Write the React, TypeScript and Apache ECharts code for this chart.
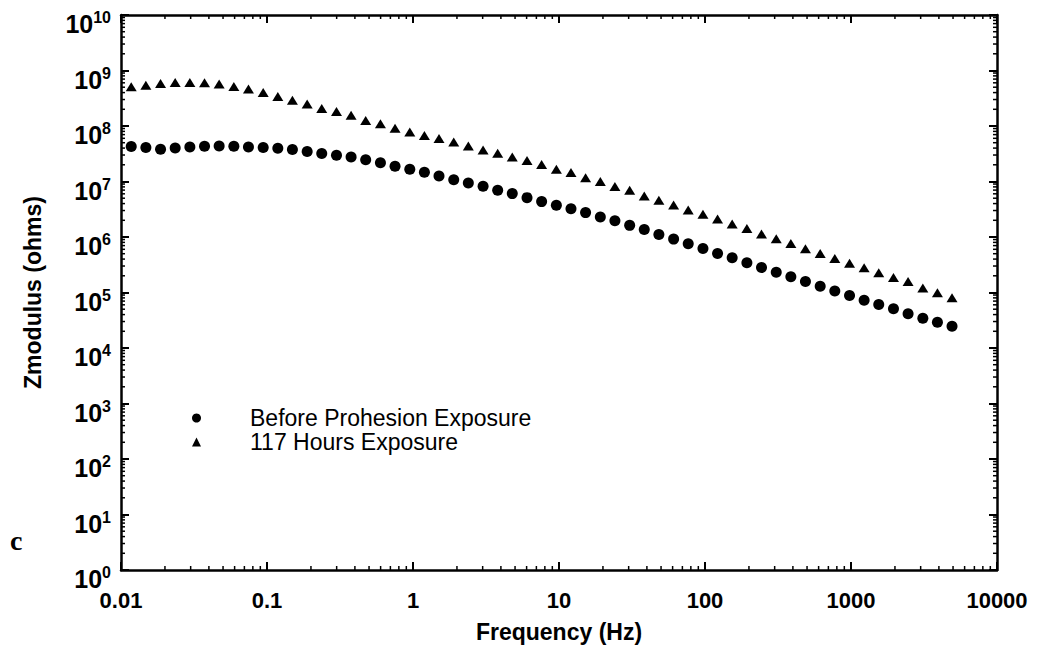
import React, { useEffect, useRef } from 'react';
import * as echarts from 'echarts';

// Frequency (Hz) of each measurement point
const frequencies = [
  0.01175, 0.0148, 0.01866, 0.0235, 0.02962, 0.03733, 0.04702, 0.05929, 0.07464, 0.09419,
  0.1186, 0.1493, 0.1884, 0.2371, 0.2992, 0.3767, 0.4742, 0.5984, 0.7534, 0.9506,
  1.197, 1.507, 1.901, 2.393, 3.02, 3.802, 4.786, 6.039, 7.603, 9.594,
  12.08, 15.21, 19.19, 24.15, 30.48, 38.37, 48.31, 60.95, 76.74, 96.83,
  121.9, 153.5, 193.6, 243.8, 307.6, 387.3, 487.5, 615.2, 774.5, 977.2,
  1230, 1549, 1954, 2460, 3105, 3908, 4920,
];

// |Z| (ohms) before Prohesion exposure
const beforeExposure = [
  4.27e7, 4.09e7, 3.81e7, 4.03e7, 4.2e7, 4.32e7, 4.38e7, 4.32e7, 4.2e7, 4.09e7,
  3.97e7, 3.77e7, 3.47e7, 3.19e7, 2.97e7, 2.77e7, 2.47e7, 2.18e7, 1.88e7, 1.66e7,
  1.47e7, 1.26e7, 1.08e7, 9.4e6, 8.18e6, 6.93e6, 6.05e6, 5.12e6, 4.34e6, 3.72e6,
  3.24e6, 2.75e6, 2.29e6, 1.97e6, 1.62e6, 1.36e6, 1.11e6, 9.16e5, 7.57e5, 6.22e5,
  5.06e5, 4.23e5, 3.44e5, 2.81e5, 2.32e5, 1.92e5, 1.58e5, 1.3e5, 1.06e5, 8.83e4,
  7.26e4, 6.07e4, 5.08e4, 4.13e4, 3.44e4, 2.91e4, 2.47e4,
];

// |Z| (ohms) after 117 hours exposure
const after117Hours = [
  5.08e8, 5.45e8, 5.85e8, 6.1e8, 6.1e8, 6.0e8, 5.69e8, 5.16e8, 4.62e8, 4.03e8,
  3.41e8, 2.92e8, 2.48e8, 2.07e8, 1.83e8, 1.57e8, 1.26e8, 1.1e8, 9.12e7, 7.83e7,
  6.73e7, 5.94e7, 5.16e7, 4.38e7, 3.71e7, 3.23e7, 2.77e7, 2.38e7, 2.02e7, 1.66e7,
  1.45e7, 1.17e7, 9.95e6, 8.09e6, 6.93e6, 5.47e6, 4.58e6, 3.77e6, 3.06e6, 2.56e6,
  2.1e6, 1.71e6, 1.43e6, 1.13e6, 9.31e5, 7.66e5, 6.15e5, 5.06e5, 4.11e5, 3.38e5,
  2.79e5, 2.27e5, 1.87e5, 1.58e5, 1.21e5, 9.89e4, 8.02e4,
];

const seriesNames = ['Before Prohesion Exposure', '117 Hours Exposure'];
const xTickLabels = ['0.01', '0.1', '1', '10', '100', '1000', '10000'];
const xExponentMin = -2;
const yTickExponents = ['0', '1', '2', '3', '4', '5', '6', '7', '8', '9', '10'];
const minorMultipliers = [2, 3, 4, 5, 6, 7, 8, 9];
const xDecades = [0.01, 0.1, 1, 10, 100, 1000];
const yDecades = [1, 10, 100, 1000, 1e4, 1e5, 1e6, 1e7, 1e8, 1e9];

const FONT = 'Liberation Sans';

export default function App() {
  const ref = useRef<HTMLDivElement>(null);

  useEffect(() => {
    if (!ref.current) return;
    const chart = echarts.init(ref.current, null, { renderer: 'svg' });

    const axisLine = { show: true, onZero: false, lineStyle: { color: '#000', width: 2.5 } };
    const axisTick = { show: true, inside: true, length: 8, lineStyle: { color: '#000', width: 2 } };

    const minorTickSeries = {
      type: 'custom',
      silent: true,
      xAxisIndex: 0,
      yAxisIndex: 0,
      data: [[1, 1]],
      renderItem: (params: any, api: any) => {
        const cs = params.coordSys;
        const left = cs.x;
        const right = cs.x + cs.width;
        const top = cs.y;
        const bottom = cs.y + cs.height;
        const len = 4;
        const style = { stroke: '#000', lineWidth: 1.5 };
        const children: any[] = [];
        xDecades.forEach((d) => {
          minorMultipliers.forEach((m) => {
            const px = api.coord([d * m, 10])[0];
            children.push({ type: 'line', shape: { x1: px, y1: bottom, x2: px, y2: bottom - len }, style });
            children.push({ type: 'line', shape: { x1: px, y1: top, x2: px, y2: top + len }, style });
          });
        });
        yDecades.forEach((d) => {
          minorMultipliers.forEach((m) => {
            const py = api.coord([1, d * m])[1];
            children.push({ type: 'line', shape: { x1: left, y1: py, x2: left + len, y2: py }, style });
            children.push({ type: 'line', shape: { x1: right, y1: py, x2: right - len, y2: py }, style });
          });
        });
        return { type: 'group', children };
      },
    };

    const yAxisBase = {
      type: 'log',
      logBase: 10,
      min: 1,
      max: 1e10,
      interval: 1,
      splitNumber: 10,
      axisLine,
      axisTick,
      splitLine: { show: false },
    };

    chart.setOption({
      animation: false,
      backgroundColor: '#ffffff',
      grid: { left: 121, right: 42, top: 15, bottom: 97, containLabel: false },
      legend: {
        orient: 'vertical',
        left: 192,
        top: 406,
        padding: 0,
        itemGap: 0,
        itemWidth: 9,
        itemHeight: 9,
        selectedMode: false,
        textStyle: {
          fontFamily: FONT,
          fontSize: 23,
          color: '#000',
          lineHeight: 24,
          padding: [0, 0, 0, 44],
        },
        data: [
          { name: seriesNames[0], icon: 'circle', itemStyle: { color: '#000', opacity: 1 } },
          { name: seriesNames[1], icon: 'triangle', itemStyle: { color: '#000', opacity: 1 } },
        ],
      },
      graphic: [
        {
          type: 'text',
          left: 10,
          top: 526,
          style: {
            text: 'c',
            fontFamily: 'Liberation Serif',
            fontWeight: 'bold',
            fontSize: 28,
            fill: '#000',
          },
        },
      ],
      xAxis: [
        {
          type: 'log',
          logBase: 10,
          min: 0.01,
          max: 10000,
          splitNumber: 6,
          position: 'bottom',
          name: 'Frequency (Hz)',
          nameLocation: 'middle',
          nameGap: 50,
          nameTextStyle: { fontFamily: FONT, fontWeight: 'bold', fontSize: 23, color: '#000' },
          axisLine,
          axisTick,
          splitLine: { show: false },
          axisLabel: {
            show: true,
            interval: 0,
            showMinLabel: true,
            showMaxLabel: true,
            margin: 19,
            fontFamily: FONT,
            fontWeight: 'bold',
            fontSize: 22,
            color: '#000',
            formatter: (v: number) => {
              const e = Math.round(Math.log10(v));
              return xTickLabels[e - xExponentMin] ?? '';
            },
          },
        },
        {
          type: 'log',
          logBase: 10,
          min: 0.01,
          max: 10000,
          splitNumber: 6,
          position: 'top',
          axisLine,
          axisTick,
          splitLine: { show: false },
          axisLabel: { show: false },
        },
      ],
      yAxis: [
        {
          ...yAxisBase,
          position: 'left',
          name: 'Zmodulus (ohms)',
          nameLocation: 'middle',
          nameGap: 77,
          nameRotate: 90,
          nameTextStyle: { fontFamily: FONT, fontWeight: 'bold', fontSize: 23, color: '#000' },
          axisLabel: {
            show: true,
            interval: 0,
            showMinLabel: true,
            showMaxLabel: true,
            margin: 10,
            padding: [16, 0, 0, 0],
            color: '#000',
            fontFamily: FONT,
            fontWeight: 'bold',
            fontSize: 25,
            formatter: (v: number) => {
              const e = Math.round(Math.log10(v));
              return `{b|10}{s|${yTickExponents[e] ?? ''}}`;
            },
            rich: {
              b: { fontFamily: FONT, fontWeight: 'bold', fontSize: 25, color: '#000', verticalAlign: 'bottom', lineHeight: 27 },
              s: { fontFamily: FONT, fontWeight: 'bold', fontSize: 16, color: '#000', verticalAlign: 'top', lineHeight: 27 },
            },
          },
        },
        {
          ...yAxisBase,
          position: 'right',
          axisLabel: { show: false },
        },
      ],
      series: [
        minorTickSeries,
        {
          type: 'scatter',
          name: seriesNames[0],
          xAxisIndex: 0,
          yAxisIndex: 0,
          symbol: 'circle',
          symbolSize: 11,
          itemStyle: { color: '#000', opacity: 1 },
          data: frequencies.map((f, i) => [f, beforeExposure[i]]),
        },
        {
          type: 'scatter',
          name: seriesNames[1],
          xAxisIndex: 0,
          yAxisIndex: 0,
          symbol: 'triangle',
          symbolSize: [11, 9],
          itemStyle: { color: '#000', opacity: 1 },
          data: frequencies.map((f, i) => [f, after117Hours[i]]),
        },
      ],
    });

    return () => chart.dispose();
  }, []);

  return (
    <div
      ref={ref}
      style={{ position: 'absolute', left: 0, top: 0, width: 1039, height: 667, background: '#fff' }}
    />
  );
}
